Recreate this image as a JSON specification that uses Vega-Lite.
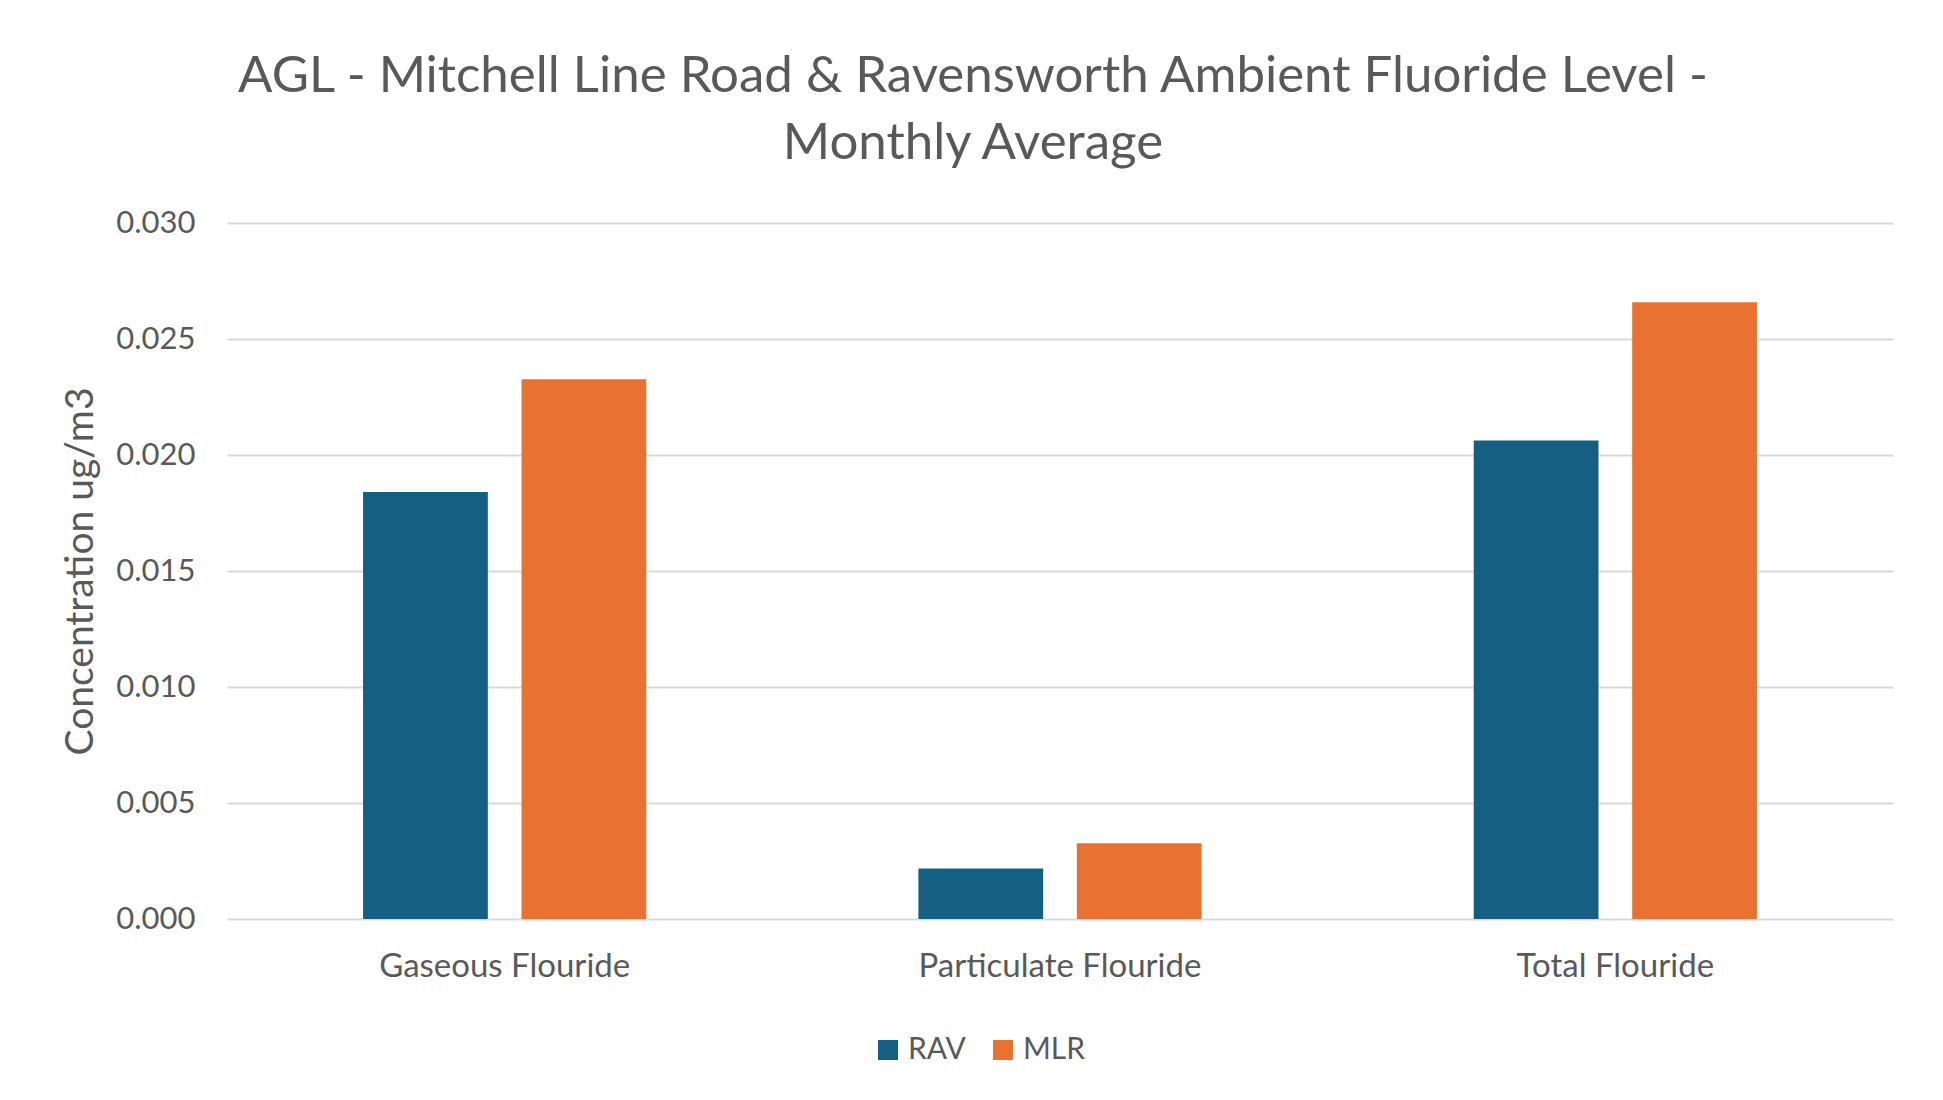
{
  "$schema": "https://vega.github.io/schema/vega-lite/v6.json",
  "width": 1666,
  "height": 696,
  "autosize": {"type": "none"},
  "padding": {"left": 227, "top": 223, "right": 50, "bottom": 181},
  "background": "white",
  "config": {
    "font": "Lato",
    "view": {"stroke": null},
    "axis": {"labelColor": "#595959", "titleColor": "#595959", "labelFont": "Lato", "titleFont": "Lato"}
  },
  "title": {
    "text": ["AGL - Mitchell Line Road & Ravensworth Ambient Fluoride Level  -", "Monthly Average"],
    "anchor": "middle",
    "fontSize": 51,
    "fontWeight": "normal",
    "color": "#595959",
    "lineHeight": 67,
    "offset": 37,
    "dx": -87,
    "font": "Lato"
  },
  "data": {
    "values": [
      {"category": "Gaseous Flouride", "site": "RAV", "value": 0.01840},
      {"category": "Gaseous Flouride", "site": "MLR", "value": 0.02327},
      {"category": "Particulate Flouride", "site": "RAV", "value": 0.00218},
      {"category": "Particulate Flouride", "site": "MLR", "value": 0.00327},
      {"category": "Total Flouride", "site": "RAV", "value": 0.02062},
      {"category": "Total Flouride", "site": "MLR", "value": 0.02658}
    ]
  },
  "mark": {"type": "bar"},
  "encoding": {
    "x": {
      "field": "category",
      "type": "nominal",
      "sort": ["Gaseous Flouride", "Particulate Flouride", "Total Flouride"],
      "scale": {"paddingInner": 0.49, "paddingOuter": 0.245},
      "axis": {"title": null, "labelAngle": 0, "labelFontSize": 33, "labelPadding": 31, "labelLimit": 0, "ticks": false, "domain": false}
    },
    "xOffset": {
      "field": "site",
      "type": "nominal",
      "sort": ["RAV", "MLR"],
      "scale": {"paddingInner": 0.2126, "paddingOuter": 0}
    },
    "y": {
      "field": "value",
      "type": "quantitative",
      "scale": {"domain": [0, 0.03], "nice": false},
      "axis": {
        "title": "Concentration ug/m3",
        "titleFontSize": 39,
        "titleFontWeight": "normal",
        "titleX": -147,
        "titleY": 348,
        "titleAngle": -90,
        "titleBaseline": "middle",
        "format": ".3f",
        "values": [0, 0.005, 0.01, 0.015, 0.02, 0.025, 0.03],
        "labelFontSize": 31,
        "labelPadding": 32,
        "ticks": false,
        "domain": false,
        "gridColor": "#d9d9d9",
        "gridWidth": 2
      }
    },
    "color": {
      "field": "site",
      "type": "nominal",
      "sort": ["RAV", "MLR"],
      "scale": {"domain": ["RAV", "MLR"], "range": ["#156082", "#E97132"]},
      "legend": {
        "title": null,
        "orient": "none",
        "legendX": 646,
        "legendY": 812,
        "direction": "horizontal",
        "symbolType": "square",
        "symbolSize": 400,
        "symbolStrokeWidth": 0,
        "labelFontSize": 30,
        "labelColor": "#595959",
        "labelFont": "Lato",
        "columnPadding": 22,
        "labelOffset": 5
      }
    }
  }
}
